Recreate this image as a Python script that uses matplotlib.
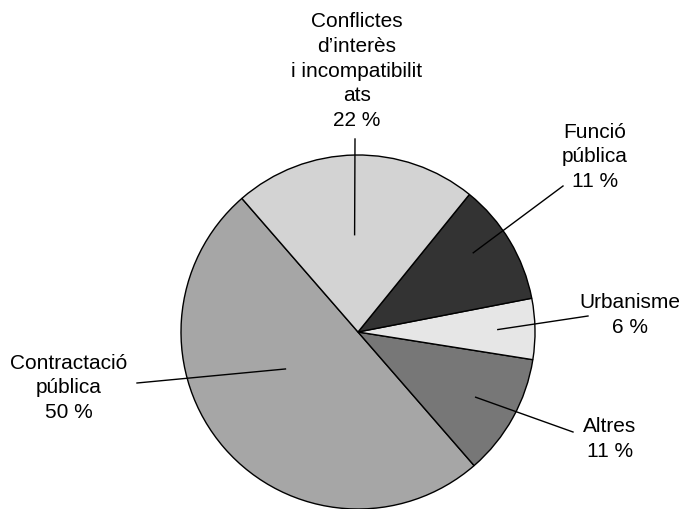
import matplotlib.pyplot as plt
import numpy as np

plt.rcParams['font.family'] = ['Liberation Sans', 'DejaVu Sans']

# data
categories = ['Contractació\npública', 'Altres', 'Urbanisme', 'Funció\npública',
              'Conflictes\nd’interès\ni incompatibilit\nats']
counts = [9, 2, 1, 2, 4]
colors = ['#a6a6a6', '#777777', '#e6e6e6', '#333333', '#d3d3d3']

# layout (pixels): pie centre/radius, label last baseline, leader line ends
cx, cy, R = 358, 333, 177
W, H = 683, 510
text_px = [(69, 418), (610, 457), (630, 333), (595, 187), (357, 126)]
line_out_px = [(137, 384), (573, 433), (588, 317), (563, 187), (355, 140)]
line_in = [(-14, 0.46), (0, 0.76), (0, 0.79), (3.5, 0.79), (1, 0.55)]  # (angle offset, radius frac)


def to_data(p):
    return (p[0] - cx) / R, (cy - p[1]) / R


fig = plt.figure(figsize=(W / 100, H / 100), dpi=100)
ax = fig.add_axes([0, 0, 1, 1])

wedges, _ = ax.pie(counts, colors=colors, startangle=131, counterclock=True,
                   wedgeprops=dict(edgecolor='black', linewidth=1))

total = sum(counts)
for w, lab, n, tp, op, (da, rf) in zip(wedges, categories, counts, text_px, line_out_px, line_in):
    ang = np.deg2rad((w.theta1 + w.theta2) / 2 + da)
    xi, yi = rf * np.cos(ang), rf * np.sin(ang)
    xo, yo = to_data(op)
    ax.plot([xi, xo], [yi, yo], color='black', lw=1)
    tx, ty = to_data(tp)
    ax.text(tx, ty, f"{lab}\n{round(100 * n / total)} %", ha='center', va='baseline',
            fontsize=15, linespacing=1.38, multialignment='center')

ax.set_xlim(-cx / R, (W - cx) / R)
ax.set_ylim(-(H - cy) / R, cy / R)
ax.axis('off')

fig.savefig('out.png', dpi=100)
